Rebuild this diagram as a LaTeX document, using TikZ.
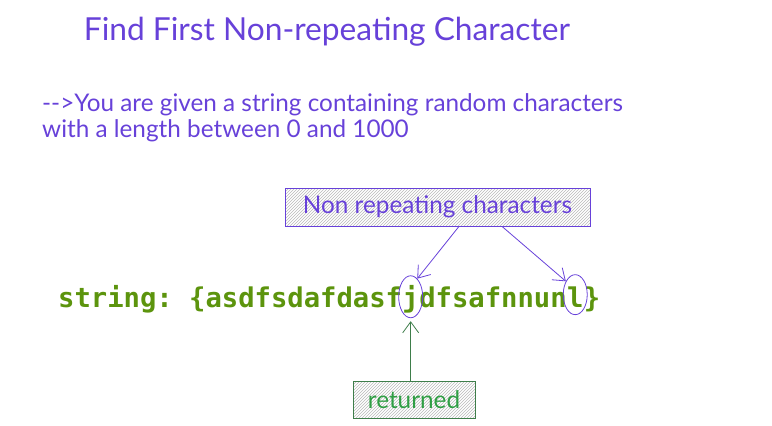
\documentclass[tikz,border=0pt]{standalone}
\usepackage{fontspec}
\setmainfont{Lato}
\setmonofont{DejaVu Sans Mono}
\usetikzlibrary{positioning,patterns,arrows.meta,shapes.geometric}
\definecolor{sketchviolet}{HTML}{6741D9}
\definecolor{sketchgreen}{HTML}{5C940D}
\definecolor{retgreen}{HTML}{2F9E44}
\definecolor{retborder}{HTML}{3E7D4A}

\begin{document}
\begin{tikzpicture}[x=1pt, y=-1pt,
  handtext/.style={font=\fontsize{24.3}{28}\selectfont, text=sketchviolet, inner sep=0pt},
  hatchbox/.style={pattern=north east lines, pattern color=gray!55, line width=0.8pt, inner sep=0pt},
  strtext/.style={font=\ttfamily\bfseries\fontsize{27.2}{30}\selectfont, text=sketchgreen, inner sep=0pt, anchor=base west},
  ring/.style={ellipse, draw=sketchviolet, line width=0.8pt, inner sep=0pt},
  barb/.style={-{Straight Barb[length=11pt, width=16pt]}, line width=0.8pt}]
  \useasboundingbox (0,0) rectangle (772,426);
  % title and description
  \node[handtext, font=\fontsize{31.7}{34}\selectfont] (title) at (327,32) {Find First Non-repeating Character};
  \node[handtext, anchor=west] (desc1) at (42,105) {{-}{-}>You are given a string containing random characters};
  \node[handtext, anchor=west] (desc2) at (42,131) {with a length between 0 and 1000};
  % the string, split so the two letters can be ringed
  \node[strtext] (strpre) at (58,307) {string: \{asdfsdafdasf};
  \node[strtext] (strj) at (strpre.base east) {j};
  \node[strtext] (strmid) at (strj.base east) {dfsafnnun};
  \node[strtext] (strl) at (strmid.base east) {l};
  \node[strtext] (strpost) at (strl.base east) {\}};
  \node[ring, minimum width=24pt, minimum height=42pt] (jring) at ([yshift=2pt]strj) {};
  \node[ring, minimum width=24pt, minimum height=40pt] (lring) at ([yshift=2pt]strl) {};
  % label boxes
  \node[hatchbox, draw=sketchviolet, minimum width=305pt, minimum height=38pt, handtext] (nonrep) at (437.5,207) {Non repeating characters};
  \node[hatchbox, draw=retborder, minimum width=122pt, minimum height=37pt, handtext, text=retgreen] (ret) at (414,399.5) {returned};
  % arrows
  \draw[barb, sketchviolet] ([xshift=21.5pt]nonrep.south) -- (jring.70);
  \draw[barb, sketchviolet] ([xshift=64.5pt]nonrep.south) -- (lring.125);
  \draw[barb, retborder, shorten >=3pt] (ret.north -| jring.south) -- (jring.south);
\end{tikzpicture}
\end{document}
